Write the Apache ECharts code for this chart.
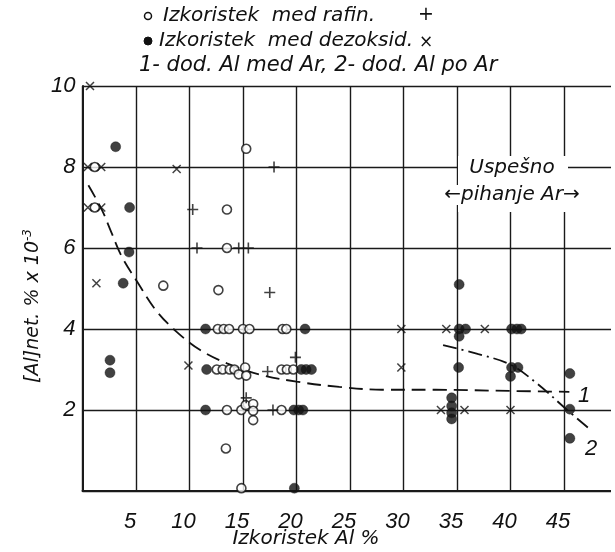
<!DOCTYPE html>
<html>
<head>
<meta charset="utf-8">
<script src="https://cdn.jsdelivr.net/npm/echarts@6/dist/echarts.min.js"></script>
<style>
html,body{margin:0;padding:0;background:#fff;overflow:hidden;}
#c{width:615px;height:552px;}
</style>
</head>
<body>
<div id="c"></div>
<script>
// Data
var xTicks = [5, 10, 15, 20, 25, 30, 35, 40, 45];
var yTicks = [2, 4, 6, 8, 10];

// Izkoristek med rafin. (open circles)
var rafinCircles = [
  [1.15, 8], [1.15, 7], [15.3, 8.45], [13.5, 6.95], [13.5, 6], [7.55, 5.07], [12.7, 4.96],
  [12.65, 4], [13.2, 4], [13.7, 4], [15.0, 4], [15.6, 4], [18.7, 4], [19.05, 4],
  [12.55, 3], [13.1, 3], [13.75, 3], [14.2, 3], [14.6, 2.88], [15.2, 3.05], [15.3, 2.85],
  [18.6, 3], [19.1, 3], [19.7, 3],
  [13.5, 2], [14.85, 2], [15.25, 2.12], [15.95, 2.15], [15.95, 1.98], [15.95, 1.75], [18.6, 2],
  [13.4, 1.05], [14.85, 0.07]
];
// rafin. "+"
var rafinPlus = [
  [17.9, 8], [10.3, 6.95], [10.7, 6], [14.6, 6], [15.5, 6], [17.5, 4.9],
  [17.3, 2.95], [19.9, 3.3], [15.3, 2.3], [17.8, 2]
];
// Izkoristek med dezoksid. (filled circles)
var dezoksidDots = [
  [3.1, 8.5], [4.4, 7], [4.35, 5.9], [3.8, 5.13], [2.57, 3.23], [2.57, 2.92],
  [11.5, 4], [20.8, 4], [11.6, 3], [20.45, 3], [20.9, 3], [21.4, 3],
  [11.5, 2], [19.75, 2], [20.2, 2], [20.6, 2], [19.8, 0.07],
  [35.2, 5.1], [35.2, 4], [35.8, 4], [35.2, 3.82], [40.1, 4], [40.6, 4], [41.0, 4],
  [35.15, 3.05], [40.1, 3.05], [40.7, 3.05], [40.0, 2.83],
  [34.5, 2.3], [34.5, 2.1], [34.5, 1.93], [34.5, 1.78],
  [45.55, 2.9], [45.55, 2.02], [45.55, 1.3]
];
// dezoksid. "x"
var dezoksidCross = [
  [0.7, 10], [0.5, 8], [1.75, 8], [8.8, 7.95], [0.5, 7], [1.75, 7], [1.3, 5.13], [9.9, 3.1],
  [29.8, 4], [34.0, 4], [37.6, 4], [29.8, 3.05], [33.5, 2], [35.7, 2], [40.0, 2]
];
// Curve 1 (dod. Al med Ar) and curve 2 (dod. Al po Ar)
var curve1 = [
  [0.55, 7.55], [1.8, 6.95], [2.6, 6.45], [3.65, 5.8], [5.2, 5.13], [6.9, 4.45], [8.8, 3.93],
  [11, 3.48], [13.5, 3.15], [16.5, 2.88], [20, 2.7], [24, 2.57], [28, 2.5], [33, 2.5],
  [40, 2.47], [45.5, 2.45]
];
var curve2 = [
  [33.7, 3.6], [37, 3.38], [40, 3.12], [42.5, 2.65], [45.3, 2.0], [47.3, 1.55]
];

var TICKFONT = '"Liberation Sans Narrow", "Liberation Sans"';
var TXT = '"DejaVu Sans"';
var chart = echarts.init(document.getElementById('c'), null, {renderer: 'canvas'});

var lineCol = '#1a1a1a';
var option = {
  backgroundColor: '#fff',
  animation: false,
  grid: {left: 82.5, top: 86, width: 533.5, height: 405, containLabel: false, outerBoundsMode: 'none'},
  xAxis: {
    type: 'value', min: 0, max: 49.86, interval: 5,
    axisLine: {show: true, onZero: false, lineStyle: {color: lineCol, width: 2}},
    axisTick: {show: false},
    splitLine: {show: true, lineStyle: {color: lineCol, width: 1.4}},
    axisLabel: {
      fontFamily: TICKFONT, fontStyle: 'italic', fontSize: 22, color: '#111', margin: 20,
      padding: [0, 12, 0, 0], showMaxLabel: false,
      formatter: function (v) { return xTicks.indexOf(v) >= 0 ? String(v) : ''; }
    }
  },
  yAxis: {
    type: 'value', min: 0, max: 10, interval: 2,
    axisLine: {show: true, onZero: false, lineStyle: {color: lineCol, width: 2}},
    axisTick: {show: false},
    splitLine: {show: true, lineStyle: {color: lineCol, width: 1.4}},
    axisLabel: {
      fontFamily: TICKFONT, fontStyle: 'italic', fontSize: 22, color: '#111', margin: 7,
      formatter: function (v) { return yTicks.indexOf(v) >= 0 ? String(v) : ''; }
    }
  },
  series: [
    {
      name: 'curve1', type: 'line', data: curve1, smooth: 0.35, symbol: 'none', z: 2,
      lineStyle: {color: '#111', width: 1.8, type: [14, 7]}
    },
    {
      name: 'curve2', type: 'line', data: curve2, smooth: 0.35, symbol: 'none', z: 2,
      lineStyle: {color: '#111', width: 1.8, type: [14, 5, 2, 5]}
    },
    {
      name: 'rafin', type: 'scatter', data: rafinCircles, symbol: 'circle', symbolSize: 9, z: 4,
      itemStyle: {color: '#fff', borderColor: '#111', borderWidth: 1.6}
    },
    {
      name: 'rafinPlus', type: 'scatter', data: rafinPlus, symbol: 'path://M5 0L5 10M0 5L10 5',
      symbolSize: 11, z: 4,
      itemStyle: {color: 'none', borderColor: '#111', borderWidth: 1.6}
    },
    {
      name: 'dezoksid', type: 'scatter', data: dezoksidDots, symbol: 'circle', symbolSize: 10, z: 5,
      itemStyle: {color: '#111', borderColor: '#111', borderWidth: 0.5}
    },
    {
      name: 'dezoksidCross', type: 'scatter', data: dezoksidCross, symbol: 'path://M0 0L10 10M10 0L0 10',
      symbolSize: 8, z: 4,
      itemStyle: {color: 'none', borderColor: '#111', borderWidth: 1.5}
    }
  ],
  graphic: [
    // cover the far right edge so no stray vertical line shows there
    {type: 'rect', shape: {x: 611, y: 84, width: 10, height: 410}, style: {fill: '#fff'}, z: 100},
    // legend lines
    {type: 'circle', shape: {cx: 148, cy: 16, r: 3.5}, style: {fill: '#fff', stroke: '#111', lineWidth: 1.5}, z: 10},
    {type: 'text', x: 163, y: 16, style: {text: 'Izkoristek  med rafin.', font: 'italic 20px ' + TXT, fill: '#111', verticalAlign: 'middle'}, z: 10},
    {type: 'text', x: 426, y: 15, style: {text: '+', font: '19px ' + TXT, fill: '#111', align: 'center', verticalAlign: 'middle'}, z: 10},
    {type: 'circle', shape: {cx: 148, cy: 41, r: 4}, style: {fill: '#111', stroke: '#111', lineWidth: 1}, z: 10},
    {type: 'text', x: 159, y: 41, style: {text: 'Izkoristek  med dezoksid.', font: 'italic 20px ' + TXT, fill: '#111', verticalAlign: 'middle'}, z: 10},
    {type: 'text', x: 426, y: 43, style: {text: '\u00d7', font: '17px ' + TXT, fill: '#111', align: 'center', verticalAlign: 'middle'}, z: 10},
    {type: 'text', x: 139, y: 66, style: {text: '1- dod. Al med Ar, 2- dod. Al po Ar', font: 'italic 21px ' + TXT, fill: '#111', verticalAlign: 'middle'}, z: 10},
    // annotation
    {type: 'rect', shape: {x: 458, y: 156, width: 110, height: 56}, style: {fill: '#fff'}, z: 8},
    {type: 'text', x: 512, y: 168, style: {text: 'Uspe\u0161no', font: 'italic 20px ' + TXT, fill: '#111', align: 'center', verticalAlign: 'middle'}, z: 10},
    {type: 'text', x: 512, y: 195, style: {text: '\u2190pihanje Ar\u2192', font: 'italic 20px ' + TXT, fill: '#111', align: 'center', verticalAlign: 'middle', backgroundColor: '#fff'}, z: 10},
    // curve labels
    {type: 'text', x: 584, y: 396, style: {text: '1', font: 'italic 22px ' + TICKFONT, fill: '#111', align: 'center', verticalAlign: 'middle'}, z: 10},
    {type: 'text', x: 591, y: 449, style: {text: '2', font: 'italic 22px ' + TICKFONT, fill: '#111', align: 'center', verticalAlign: 'middle'}, z: 10},
    // axis titles
    {type: 'text', x: 306, y: 539, style: {text: 'Izkoristek Al %', font: 'italic 20px ' + TXT, fill: '#111', align: 'center', verticalAlign: 'middle'}, z: 10},
    {type: 'text', x: 33, y: 306, rotation: Math.PI / 2,
     style: {text: '[Al]net. % x 10{s|-3}', font: 'italic 19px ' + TXT, fill: '#111', align: 'center', verticalAlign: 'middle',
             rich: {s: {font: 'italic 12px ' + TXT, fill: '#111', padding: [0, 0, 10, 0]}}}, z: 10}
  ]
};
chart.setOption(option);
</script>
</body>
</html>
